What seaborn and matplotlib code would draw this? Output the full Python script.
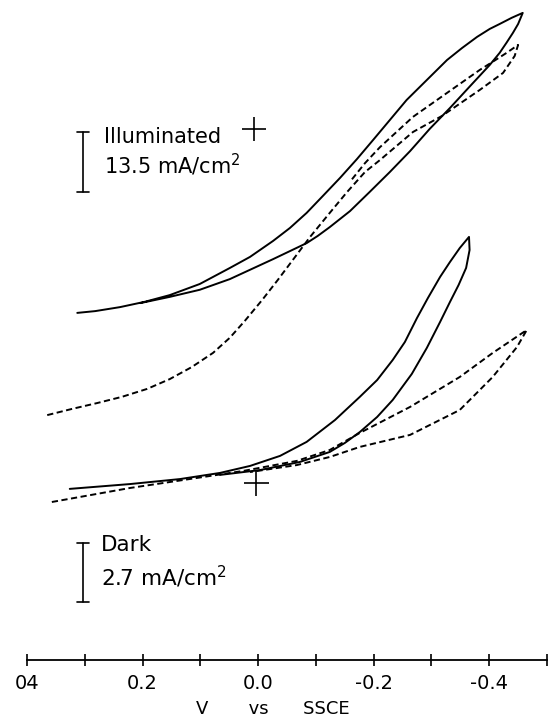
import numpy as np
import pandas as pd
import matplotlib
matplotlib.use("Agg")
import matplotlib.pyplot as plt
import seaborn as sns

# potentials (V vs SSCE) and current densities (mA/cm2)
illum_solid_v = [0.313, 0.282, 0.239, 0.196, 0.153, 0.101, 0.049, 0.014, -0.026, -0.055,
                 -0.084, -0.112, -0.142, -0.171, -0.199, -0.228, -0.257, -0.292, -0.327,
                 -0.353, -0.379, -0.401, -0.418, -0.439, -0.458,
                 -0.450, -0.441, -0.430, -0.418, -0.401, -0.366, -0.332, -0.297, -0.263,
                 -0.228, -0.193, -0.159, -0.124, -0.103, -0.084, -0.055, -0.026, 0.014,
                 0.049, 0.101, 0.153, 0.204]
illum_solid_i = [-41.4, -41.0, -40.1, -38.9, -37.4, -34.9, -31.3, -28.8, -25.2, -22.3,
                 -18.9, -15.1, -11.0, -6.8, -2.5, 2.0, 6.5, 11.0, 15.5,
                 18.2, 20.7, 22.5, 23.6, 25.0, 26.1,
                 23.6, 21.6, 19.4, 17.1, 14.4, 9.5, 4.7, 0.0, -5.0,
                 -9.7, -14.2, -18.5, -22.1, -24.1, -25.7, -27.5, -29.3, -31.7,
                 -33.8, -36.2, -37.8, -39.2]

illum_dash_v = [0.365, 0.322, 0.279, 0.236, 0.192, 0.153, 0.115, 0.078, 0.049, 0.023,
                -0.007, -0.034, -0.060, -0.090, -0.124, -0.154, -0.185, -0.211, -0.268,
                -0.318, -0.384, -0.424, -0.444, -0.450,
                -0.430, -0.406, -0.384, -0.327, -0.268, -0.211, -0.185, -0.159]
illum_dash_i = [-64.4, -63.0, -61.7, -60.3, -58.5, -56.3, -53.6, -50.4, -47.0, -43.2,
                -38.5, -34.0, -29.5, -24.3, -18.9, -14.2, -9.7, -7.0, -0.7,
                2.9, 8.8, 12.6, 16.4, 18.9,
                17.1, 15.1, 13.3, 8.1, 2.7, -4.1, -7.7, -11.9]

dark_solid_v = [0.326, 0.222, 0.135, 0.066, 0.014, -0.038, -0.084, -0.133, -0.176, -0.206,
                -0.233, -0.254, -0.275, -0.294, -0.315, -0.332, -0.349, -0.365,
                -0.366, -0.360, -0.347, -0.332, -0.315, -0.292, -0.266, -0.233, -0.206,
                -0.176, -0.150, -0.124, -0.072, -0.003, 0.066]
dark_solid_i = [-0.27, -0.05, 0.18, 0.46, 0.78, 1.24, 1.88, 2.88, 3.94, 4.71,
                5.63, 6.45, 7.55, 8.47, 9.43, 10.11, 10.75, 11.26,
                10.66, 9.84, 9.06, 8.28, 7.37, 6.18, 4.99, 3.80, 3.02,
                2.33, 1.83, 1.42, 0.96, 0.59, 0.37]

dark_dash_v = [0.357, 0.222, 0.106, 0.026, -0.067, -0.124, -0.176, -0.263, -0.349, -0.406,
               -0.465,
               -0.448, -0.406, -0.349, -0.263, -0.176, -0.124, -0.067, 0.014]
dark_dash_i = [-0.87, -0.23, 0.23, 0.55, 1.01, 1.51, 2.29, 3.48, 4.85, 5.95,
               7.00,
               6.22, 4.85, 3.34, 2.20, 1.65, 1.19, 0.82, 0.50]

tick_values = [0.4, 0.3, 0.2, 0.1, 0.0, -0.1, -0.2, -0.3, -0.4, -0.5]
tick_labels = ["04", "", "0.2", "", "0.0", "", "-0.2", "", "-0.4", ""]

illum_scale = 13.5  # mA/cm2 per scale bar
dark_scale = 2.7

sns.set_style("white")
plt.rcParams['font.family'] = ['DejaVu Sans']
plt.rcParams['text.color'] = 'black'
plt.rcParams['xtick.color'] = 'black'
plt.rcParams['axes.labelcolor'] = 'black'

fig = plt.figure(figsize=(5.49, 7.2), dpi=100)
ax = fig.add_axes([27 / 549, 60 / 720, 520 / 549, 660 / 720])
ax_dark = ax.twinx()

dash = (0, (3.2, 1.8))

# illuminated curves
sns.lineplot(x=illum_solid_v, y=illum_solid_i, sort=False, estimator=None,
             ax=ax, color="black", lw=1.4)
sns.lineplot(x=illum_dash_v, y=illum_dash_i, sort=False, estimator=None,
             ax=ax, color="black", lw=1.4, linestyle=dash)

# dark curves
sns.lineplot(x=dark_solid_v, y=dark_solid_i, sort=False, estimator=None,
             ax=ax_dark, color="black", lw=1.4)
sns.lineplot(x=dark_dash_v, y=dark_dash_i, sort=False, estimator=None,
             ax=ax_dark, color="black", lw=1.4, linestyle=dash)

ax.set_xlim(0.4, -0.5)
ax.set_ylim(-119.5, 29.0)
ax_dark.set_ylim(-8.1, 22.1)

# zero-current markers
ax.plot([0.007], [0], marker="+", ms=17, mew=1.2, color="black")
ax_dark.plot([0.004], [0], marker="+", ms=18, mew=1.2, color="black")

# scale bars
def scale_bar(a, x, top, length, cap=0.011):
    a.plot([x, x], [top, top - length], color="black", lw=1.2)
    a.plot([x - cap, x + cap], [top, top], color="black", lw=1.2)
    a.plot([x - cap, x + cap], [top - length, top - length], color="black", lw=1.2)

scale_bar(ax, 0.303, -0.7, illum_scale)
scale_bar(ax_dark, 0.303, -2.75, dark_scale)

ax.text(0.267, -1.8, "Illuminated", fontsize=15, va="center", ha="left")
ax.text(0.267, -8.1, "13.5 mA/cm$^2$", fontsize=15, va="center", ha="left")
ax_dark.text(0.272, -2.84, "Dark", fontsize=15.5, va="center", ha="left")
ax_dark.text(0.272, -4.30, "2.7 mA/cm$^2$", fontsize=15.5, va="center", ha="left")

# axis styling
for a in (ax, ax_dark):
    for side in ("top", "left", "right"):
        a.spines[side].set_visible(False)
    a.set_yticks([])
    a.set_ylabel("")
ax_dark.spines["bottom"].set_visible(False)
ax.spines["bottom"].set_linewidth(1.3)
ax.spines["bottom"].set_color("black")
ax.set_xticks(tick_values)
ax.set_xticklabels(tick_labels)
ax.tick_params(axis="x", bottom=True, direction="inout", length=8.5, width=1.2,
               colors="black", labelsize=14, pad=6)
ax.set_xlabel("V       vs      SSCE", fontsize=13, labelpad=5, x=0.473)

fig.savefig("out.png", dpi=100)
